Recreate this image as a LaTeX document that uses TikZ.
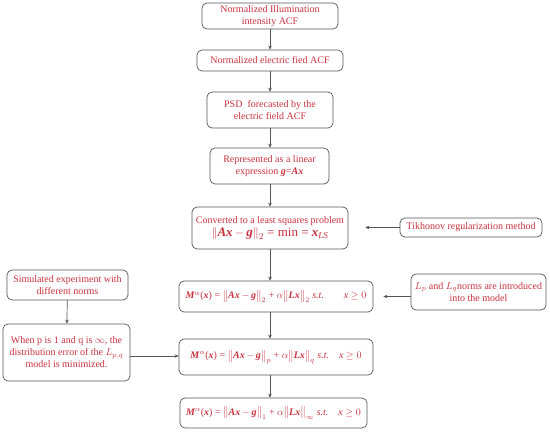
\documentclass[tikz,border=0pt]{standalone}
\usepackage{fontspec}
\setmainfont{Liberation Serif}
\usetikzlibrary{arrows.meta}
\definecolor{txt}{HTML}{C8303C}
\definecolor{edge}{HTML}{555555}
\newcommand{\bi}[1]{\textbf{\textit{#1}}}
\begin{document}
\begin{tikzpicture}[x=1pt,y=-1pt,
  box/.style={draw=edge,line width=0.7pt,rounded corners=5pt,inner sep=0pt,
    text=txt,align=center,font=\fontsize{10}{12}\selectfont},
  conn/.style={draw=edge,line width=0.7pt,-{Stealth[length=4pt,width=3.5pt,fill=black]}}]
\useasboundingbox (0,0) rectangle (550,432);
\node[box,minimum width=136pt,minimum height=26pt] (b1) at (270,16) {Normalized Illumination\\intensity ACF};
\node[box,minimum width=146pt,minimum height=21pt] (b2) at (270,60.5) {Normalized electric fied ACF};
\node[box,minimum width=126pt,minimum height=36pt] (b3) at (270,110) {PSD\ \ forecasted by the\\electric field ACF};
\node[box,minimum width=119pt,minimum height=36pt] (b4) at (269.5,166) {Represented as a linear\\expression \bi{g}=\bi{Ax}};
\node[box,minimum width=156pt,minimum height=42pt] (b5) at (270,228) {Converted to a least squares problem\\[1pt]{\fontsize{13}{14}\selectfont $\big\|$\bi{Ax}\,$-$\,\bi{g}$\big\|_2$ = min = \bi{x}$_{\scriptstyle\mathit{LS}}$}};
\node[box,minimum width=142pt,minimum height=19pt] (tk) at (471,227.5) {Tikhonov regularization method};
\node[box,minimum width=194pt,minimum height=31pt] (b6) at (276,296.5) {\bi{M}$^{\alpha}$(\bi{x}) = $\big\|$\bi{Ax}\,$-$\,\bi{g}$\big\|_2$ + $\alpha\big\|$\bi{Lx}$\big\|_2$ \textit{s.t.}\qquad \textit{x} $\geq 0$};
\node[box,minimum width=135pt,minimum height=36pt] (lp) at (478.5,292) {$L_p$ and $L_q$norms are introduced\\into the model};
\node[box,minimum width=121pt,minimum height=30pt] (sim) at (67.5,285) {Simulated experiment with\\different norms};
\node[box,minimum width=127pt,minimum height=57pt] (wh) at (66.5,352.5) {When p is 1 and q is $\infty$, the\\distribution error of the $L_{p,q}$\\model is minimized.};
\node[box,minimum width=194pt,minimum height=36pt] (b7) at (276,357) {\bi{M}$^{\alpha}$(\bi{x}) = $\big\|$\bi{Ax}\,$-$\,\bi{g}$\big\|_p$ + $\alpha\big\|$\bi{Lx}$\big\|_q$ \textit{s.t.}\quad \textit{x} $\geq 0$};
\node[box,minimum width=187pt,minimum height=30pt] (b8) at (273.5,413) {\bi{M}$^{\alpha}$(\bi{x}) = $\big\|$\bi{Ax}\,$-$\,\bi{g}$\big\|_1$ + $\alpha\big\|$\bi{Lx}$\big\|_\infty$ \textit{s.t.}\quad \textit{x} $\geq 0$};
\draw[conn] (b1.south -| 270,0) -- (b2.north -| 270,0);
\draw[conn] (b2.south -| 270,0) -- (b3.north -| 270,0);
\draw[conn] (b3.south -| 270,0) -- (b4.north -| 270,0);
\draw[conn] (b4.south -| 270,0) -- (b5.north -| 270,0);
\draw[conn] (b5.south -| 270,0) -- (b6.north -| 270,0);
\draw[conn] (b6.south -| 270,0) -- (b7.north -| 270,0);
\draw[conn] (b7.south -| 270,0) -- (b8.north -| 270,0);
\draw[conn,shorten >=17pt] (tk.west) -- (tk.west -| b5.east);
\draw[conn,shorten >=10pt] (lp.west |- 0,296.5) -- (b6.east);
\draw[conn] (sim) -- (wh);
\draw[conn] (wh.east |- 0,356) -- (b7.west |- 0,356);
\end{tikzpicture}
\end{document}
